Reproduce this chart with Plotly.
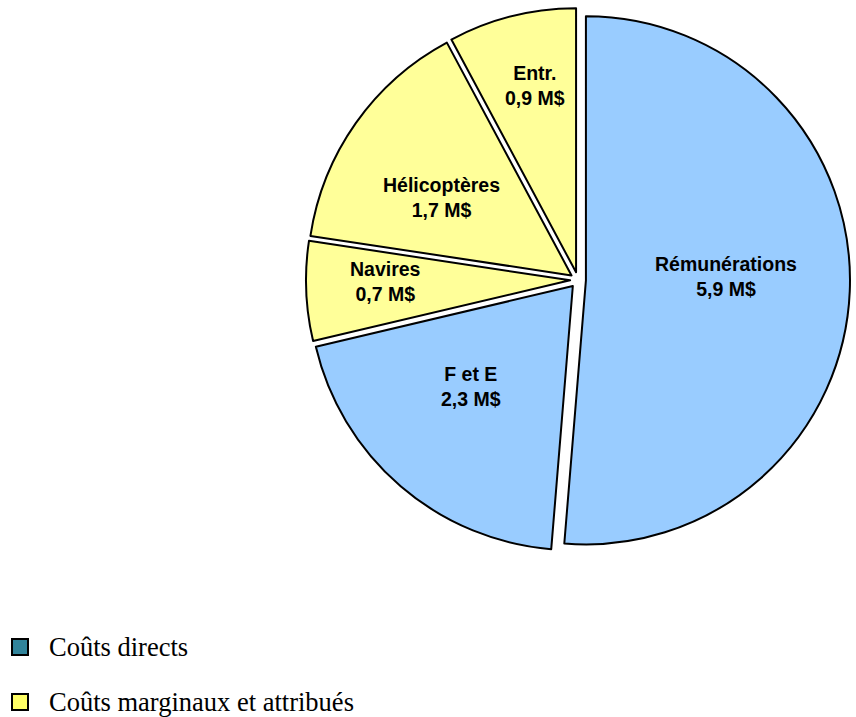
import math
import plotly.graph_objects as go

labels = ["Rémunérations", "F et E", "Navires", "Hélicoptères", "Entr."]
values = [5.9, 2.3, 0.7, 1.7, 0.9]
slice_colors = ["#99CCFF", "#99CCFF", "#FFFF99", "#FFFF99", "#FFFF99"]
pulls = [0.03, 0.03, 0.03, 0.03, 0.03]
label_radius = [0.56, 0.57, 0.73, 0.61, 0.75]
label_shift = [(0, -10), (-9, -8), (0, -6), (-5, 10), (5, -2)]

legend_names = ["Coûts directs", "Coûts marginaux et attribués"]
legend_colors = ["#31849B", "#FFFF66"]

W, H = 856, 717
CX, CY, HALF = 578, 280, 272

fig = go.Figure()
fig.add_trace(go.Pie(
    labels=labels,
    values=values,
    sort=False,
    direction="clockwise",
    rotation=0,
    pull=pulls,
    marker=dict(colors=slice_colors, line=dict(color="black", width=2)),
    textinfo="none",
    hoverinfo="skip",
    showlegend=False,
    domain=dict(x=[(CX - HALF) / W, (CX + HALF) / W], y=[1 - (CY + HALF) / H, 1 - (CY - HALF) / H]),
))

# slice labels placed at each slice's mid-angle (computed from values)
R = HALF / (1 + max(pulls))
total = sum(values)
cum = 0.0
annotations = []
for lab, v, f, (sx, sy) in zip(labels, values, label_radius, label_shift):
    mid = (cum + v / 2) / total * 2 * math.pi
    cum += v
    px = CX + R * f * math.sin(mid) + sx
    py = CY - R * f * math.cos(mid) + sy
    txt = "<b>%s<br>%s M$</b>" % (lab, ("%.1f" % v).replace(".", ","))
    annotations.append(dict(text=txt, xref="paper", yref="paper",
                            x=px / W, y=1 - py / H, xanchor="center", yanchor="middle",
                            showarrow=False, align="center",
                            font=dict(family="Liberation Sans, Arial", size=19.5, color="black")))

shapes = []
ys = [647, 702]
for name, col, yc in zip(legend_names, legend_colors, ys):
    shapes.append(dict(type="rect", xref="paper", yref="paper",
                       x0=12 / W, x1=28 / W, y0=1 - (yc + 8) / H, y1=1 - (yc - 8) / H,
                       fillcolor=col, line=dict(color="black", width=2)))
    annotations.append(dict(text=name, xref="paper", yref="paper",
                            x=47 / W, y=1 - yc / H, xanchor="left", yanchor="middle",
                            showarrow=False,
                            font=dict(family="Liberation Serif, Times New Roman", size=26.5, color="black")))

fig.update_layout(
    width=W, height=H,
    margin=dict(l=0, r=0, t=0, b=0),
    paper_bgcolor="white",
    plot_bgcolor="white",
    shapes=shapes,
    annotations=annotations,
)

fig.write_html("out.html")
